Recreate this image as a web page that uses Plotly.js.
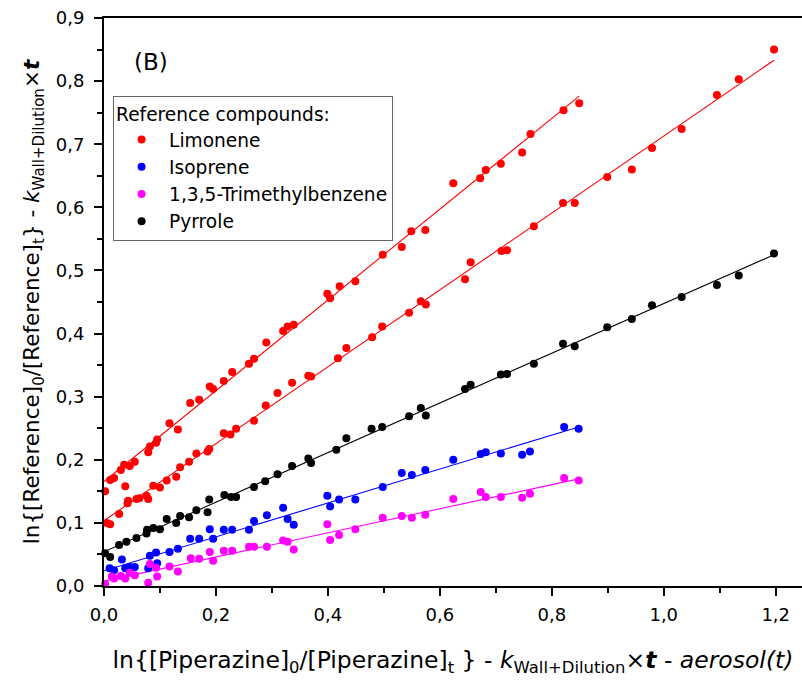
<!DOCTYPE html>
<html>
<head>
<meta charset="utf-8">
<script src="https://cdn.plot.ly/plotly-3.0.1.min.js"></script>
<style>
  html, body { margin: 0; padding: 0; background: #fff; }
  #chart { width: 802px; height: 683px; }
</style>
</head>
<body>
<div id="chart"></div>
<script>
// Limonene, run 1 (shares its abscissa with isoprene and 1,3,5-trimethylbenzene)
const limonene1X = [0.002, 0.011, 0.018, 0.030, 0.036, 0.046, 0.055, 0.079, 0.082, 0.093, 0.095, 0.117, 0.132, 0.154, 0.170, 0.189, 0.195, 0.214, 0.229, 0.259, 0.268, 0.290, 0.320, 0.328, 0.339, 0.399, 0.404, 0.421, 0.449, 0.498, 0.532, 0.549, 0.574, 0.624, 0.672, 0.682, 0.709, 0.747, 0.762, 0.821, 0.849];
const limonene1Y = [0.150, 0.168, 0.171, 0.184, 0.192, 0.190, 0.197, 0.212, 0.221, 0.227, 0.232, 0.258, 0.248, 0.290, 0.295, 0.316, 0.312, 0.325, 0.339, 0.352, 0.360, 0.386, 0.404, 0.411, 0.414, 0.463, 0.456, 0.475, 0.483, 0.525, 0.537, 0.562, 0.564, 0.638, 0.646, 0.659, 0.669, 0.687, 0.716, 0.754, 0.765];

// Limonene, run 2 (shares its abscissa with pyrrole)
const limonene2X = [0.005, 0.011, 0.027, 0.038, 0.042, 0.043, 0.058, 0.063, 0.076, 0.079, 0.088, 0.100, 0.112, 0.129, 0.136, 0.152, 0.165, 0.185, 0.188, 0.214, 0.226, 0.236, 0.268, 0.289, 0.310, 0.336, 0.365, 0.370, 0.418, 0.433, 0.479, 0.497, 0.545, 0.566, 0.575, 0.645, 0.655, 0.710, 0.720, 0.768, 0.820, 0.841, 0.899, 0.943, 0.979, 1.032, 1.095, 1.134, 1.197];
const limonene2Y = [0.100, 0.098, 0.114, 0.158, 0.131, 0.135, 0.138, 0.139, 0.143, 0.138, 0.159, 0.156, 0.167, 0.173, 0.188, 0.197, 0.210, 0.213, 0.217, 0.242, 0.240, 0.249, 0.262, 0.286, 0.306, 0.322, 0.333, 0.332, 0.361, 0.377, 0.394, 0.411, 0.433, 0.451, 0.446, 0.486, 0.513, 0.531, 0.532, 0.570, 0.607, 0.607, 0.648, 0.660, 0.694, 0.724, 0.778, 0.803, 0.850];

const isopreneX = [0.010, 0.018, 0.032, 0.038, 0.046, 0.055, 0.079, 0.082, 0.093, 0.095, 0.117, 0.132, 0.154, 0.170, 0.189, 0.195, 0.214, 0.229, 0.259, 0.268, 0.291, 0.320, 0.328, 0.339, 0.399, 0.404, 0.420, 0.449, 0.498, 0.532, 0.550, 0.574, 0.624, 0.673, 0.682, 0.709, 0.747, 0.761, 0.822, 0.848];
const isopreneY = [0.028, 0.025, 0.042, 0.028, 0.030, 0.030, 0.028, 0.048, 0.053, 0.036, 0.054, 0.059, 0.075, 0.075, 0.090, 0.075, 0.089, 0.089, 0.089, 0.103, 0.112, 0.124, 0.106, 0.097, 0.143, 0.126, 0.137, 0.137, 0.157, 0.179, 0.176, 0.184, 0.200, 0.209, 0.212, 0.210, 0.208, 0.213, 0.252, 0.249];

const tmbX = [0.002, 0.014, 0.018, 0.030, 0.038, 0.046, 0.055, 0.079, 0.082, 0.093, 0.095, 0.117, 0.132, 0.155, 0.170, 0.189, 0.195, 0.214, 0.229, 0.259, 0.268, 0.291, 0.320, 0.328, 0.339, 0.399, 0.404, 0.420, 0.449, 0.498, 0.532, 0.550, 0.574, 0.624, 0.673, 0.682, 0.709, 0.747, 0.761, 0.822, 0.848];
const tmbY = [0.003, 0.015, 0.012, 0.016, 0.012, 0.021, 0.017, 0.005, 0.035, 0.029, 0.015, 0.031, 0.023, 0.044, 0.043, 0.054, 0.040, 0.056, 0.056, 0.062, 0.062, 0.062, 0.072, 0.070, 0.058, 0.098, 0.073, 0.081, 0.090, 0.108, 0.111, 0.108, 0.113, 0.138, 0.149, 0.141, 0.141, 0.140, 0.146, 0.171, 0.167];

const pyrroleX = [0.002, 0.011, 0.027, 0.040, 0.058, 0.076, 0.077, 0.088, 0.100, 0.112, 0.129, 0.136, 0.152, 0.165, 0.185, 0.188, 0.215, 0.227, 0.236, 0.268, 0.288, 0.310, 0.336, 0.365, 0.370, 0.415, 0.433, 0.478, 0.497, 0.545, 0.566, 0.575, 0.645, 0.655, 0.709, 0.720, 0.768, 0.820, 0.841, 0.899, 0.943, 0.979, 1.032, 1.095, 1.134, 1.197];
const pyrroleY = [0.052, 0.046, 0.065, 0.070, 0.076, 0.083, 0.089, 0.092, 0.090, 0.106, 0.100, 0.111, 0.109, 0.120, 0.117, 0.137, 0.144, 0.141, 0.141, 0.157, 0.166, 0.177, 0.190, 0.202, 0.195, 0.216, 0.234, 0.249, 0.252, 0.269, 0.282, 0.270, 0.312, 0.319, 0.335, 0.336, 0.352, 0.384, 0.380, 0.410, 0.423, 0.445, 0.458, 0.477, 0.492, 0.527];

const seriesNames = ['Limonene', 'Limonene', 'Isoprene', '1,3,5-Trimethylbenzene', 'Pyrrole'];
const seriesColors = ['#ff0000', '#ff0000', '#0000ff', '#ff00ff', '#000000'];
const xTickVals = [0, 0.2, 0.4, 0.6, 0.8, 1.0, 1.2];
const yTickVals = [0, 0.1, 0.2, 0.3, 0.4, 0.5, 0.6, 0.7, 0.8, 0.9];

const seriesX = [limonene1X, limonene2X, isopreneX, tmbX, pyrroleX];
const seriesY = [limonene1Y, limonene2Y, isopreneY, tmbY, pyrroleY];

// Ordinary least-squares fit, drawn from x = 0 to the last measured point
function linearFit(xs, ys) {
  const n = xs.length;
  let sx = 0, sy = 0, sxx = 0, sxy = 0;
  for (let i = 0; i < n; i++) {
    sx += xs[i]; sy += ys[i]; sxx += xs[i] * xs[i]; sxy += xs[i] * ys[i];
  }
  const slope = (n * sxy - sx * sy) / (n * sxx - sx * sx);
  const intercept = (sy - slope * sx) / n;
  return { slope, intercept };
}

const legendOrder = [0, 2, 3, 4];
const traces = [];
// fit lines first so the points sit on top
seriesX.forEach((xs, i) => {
  const f = linearFit(xs, seriesY[i]);
  const x1 = Math.max(...xs);
  traces.push({
    type: 'scatter', mode: 'lines',
    x: [0, x1], y: [f.intercept, f.intercept + f.slope * x1],
    line: { color: seriesColors[i], width: 1.1 },
    showlegend: false, hoverinfo: 'skip', cliponaxis: false
  });
});
seriesX.forEach((xs, i) => {
  traces.push({
    type: 'scatter', mode: 'markers',
    x: xs, y: seriesY[i], name: seriesNames[i],
    marker: { color: seriesColors[i], size: 8, line: { width: 0 } },
    showlegend: legendOrder.includes(i),
    legendrank: legendOrder.indexOf(i) + 1,
    cliponaxis: false
  });
});

const FAMILY = 'DejaVu Sans, Liberation Sans, Arial, sans-serif';
const tickFont = { family: FAMILY, size: 18, color: '#000' };

const layout = {
  width: 802, height: 683,
  margin: { l: 104, r: 0, t: 18, b: 97, pad: 0 },
  paper_bgcolor: '#fff', plot_bgcolor: '#fff',
  separators: ', ',
  showlegend: true,
  xaxis: {
    range: [0, 1.247],
    tickvals: xTickVals, tickformat: '.1f',
    ticks: 'outside', ticklen: 8, tickwidth: 2, tickcolor: '#000',
    minor: { dtick: 0.1, ticks: 'outside', ticklen: 5, tickwidth: 2, tickcolor: '#000', showgrid: false },
    showline: true, linewidth: 2, linecolor: '#000', mirror: true,
    showgrid: false, zeroline: false,
    tickfont: tickFont, ticklabelstandoff: 3,
    title: {
      text: 'ln{[Piperazine]<sub>0</sub>/[Piperazine]<sub>t</sub> } - <i>k</i><sub>Wall+Dilution</sub>×<b><i>t</i></b> - <i>aerosol(t)</i>',
      font: { family: FAMILY, size: 23.5, color: '#000' }, standoff: 28
    }
  },
  yaxis: {
    range: [0, 0.9],
    tickvals: yTickVals, tickformat: '.1f',
    ticks: 'outside', ticklen: 8, tickwidth: 2, tickcolor: '#000',
    minor: { dtick: 0.05, ticks: 'outside', ticklen: 5, tickwidth: 2, tickcolor: '#000', showgrid: false },
    showline: true, linewidth: 2, linecolor: '#000', mirror: false,
    showgrid: false, zeroline: false,
    tickfont: tickFont, ticklabelstandoff: 6,
    title: {
      text: 'ln{[Reference]<sub>0</sub>/[Reference]<sub>t</sub>} - <i>k</i><sub>Wall+Dilution</sub>×<b><i>t</i></b>',
      font: { family: FAMILY, size: 21.5, color: '#000' }, standoff: 10
    }
  },
  legend: {
    x: 0.013, y: 0.863, xanchor: 'left', yanchor: 'top',
    bgcolor: '#fff', bordercolor: '#666', borderwidth: 1,
    font: { family: FAMILY, size: 18.6, color: '#000' },
    title: { text: 'Reference compounds:', font: { family: FAMILY, size: 18.6, color: '#000' } },
    itemwidth: 45, traceorder: 'normal'
  },
  annotations: [{
    text: '(B)', xref: 'paper', yref: 'paper', x: 0.067, y: 0.9225,
    xanchor: 'center', yanchor: 'middle', showarrow: false,
    font: { family: FAMILY, size: 23, color: '#000' }
  }]
};

Plotly.newPlot('chart', traces, layout, { displayModeBar: false, responsive: false });
</script>
</body>
</html>
